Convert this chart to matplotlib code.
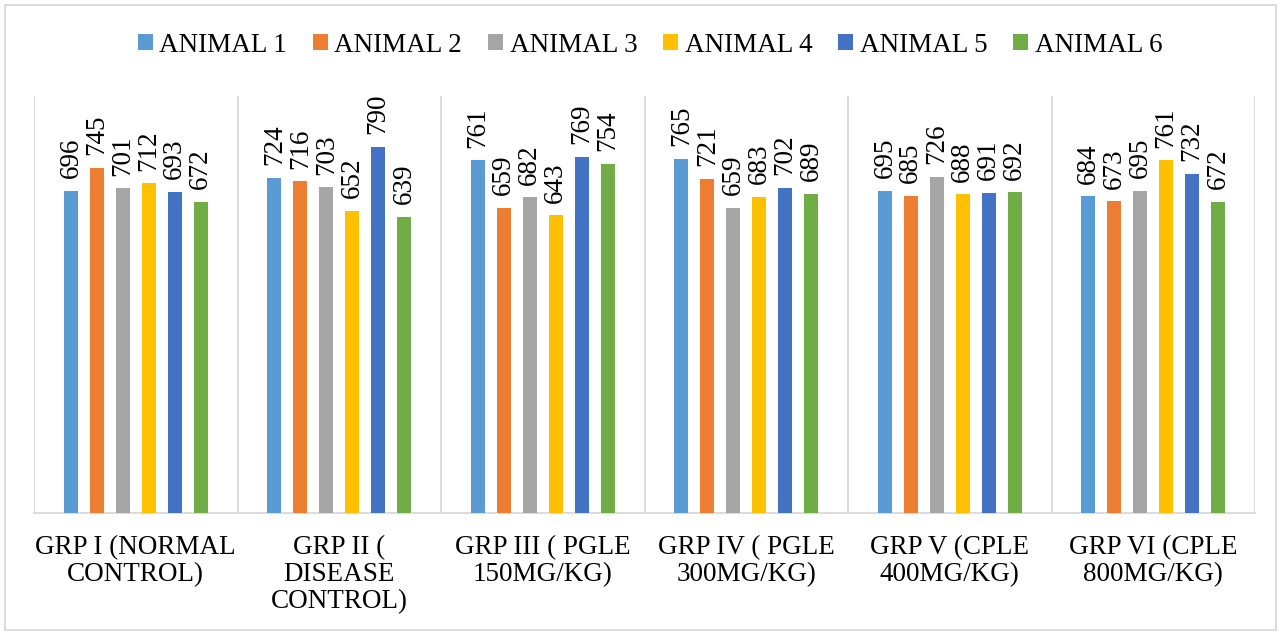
import matplotlib.pyplot as plt
import numpy as np
from matplotlib.patches import Rectangle

groups = ["GRP I (NORMAL\nCONTROL)", "GRP II (\nDISEASE\nCONTROL)",
          "GRP III ( PGLE\n150MG/KG)", "GRP IV ( PGLE\n300MG/KG)",
          "GRP V (CPLE\n400MG/KG)", "GRP VI (CPLE\n800MG/KG)"]
animals = ["ANIMAL 1", "ANIMAL 2", "ANIMAL 3", "ANIMAL 4", "ANIMAL 5", "ANIMAL 6"]
animal1 = [696, 724, 761, 765, 695, 684]
animal2 = [745, 716, 659, 721, 685, 673]
animal3 = [701, 703, 682, 659, 726, 695]
animal4 = [712, 652, 643, 683, 688, 761]
animal5 = [693, 790, 769, 702, 691, 732]
animal6 = [672, 639, 754, 689, 692, 672]
series = [animal1, animal2, animal3, animal4, animal5, animal6]
colors = ["#5B9BD5", "#ED7D31", "#A5A5A5", "#FFC000", "#4472C4", "#70AD47"]

plt.rcParams['font.family'] = ['Liberation Serif', 'DejaVu Serif']
fs = 19.5

fig = plt.figure(figsize=(12.82, 6.35), dpi=100)
ax = fig.add_axes([34 / 1282, 122 / 635, 1221 / 1282, 417 / 635])

x = np.arange(len(groups))
step = 26 / 204
width = 14 / 204
for i, (name, vals, c) in enumerate(zip(animals, series, colors)):
    bars = ax.bar(x + (i - 2.5) * step, vals, width, color=c, label=name, zorder=3)
    ax.bar_label(bars, rotation=90, padding=9, fontsize=fs, color='black')

ax.set_xlim(-0.5, len(groups) - 0.5)
ax.set_ylim(0, 900)
ax.set_yticks([])
ax.set_xticks(x)
ax.set_xticklabels(groups, fontsize=fs, linespacing=1.1)
ax.tick_params(axis='x', length=0, pad=16)
ax.set_xticks(np.arange(len(groups) + 1) - 0.5, minor=True)
ax.tick_params(axis='x', which='minor', length=0)
ax.grid(axis='x', which='minor', color='#D9D9D9', linewidth=1.3, zorder=0)
for s in ['top', 'right', 'left']:
    ax.spines[s].set_visible(False)
ax.spines['bottom'].set_color('#D9D9D9')
ax.spines['bottom'].set_linewidth(1.3)

fig.legend(loc='center', bbox_to_anchor=(650 / 1282, 1 - 45 / 635), ncol=6,
           frameon=False, fontsize=fs, handlelength=0.55, handleheight=0.55,
           handletextpad=0.25, columnspacing=0.95)

fig.patches.append(Rectangle((5 / 1282, 5 / 635), 1271 / 1282, 625 / 635,
                             transform=fig.transFigure, fill=False,
                             edgecolor='#D9D9D9', linewidth=1.3))

fig.savefig('out.png', dpi=100)
